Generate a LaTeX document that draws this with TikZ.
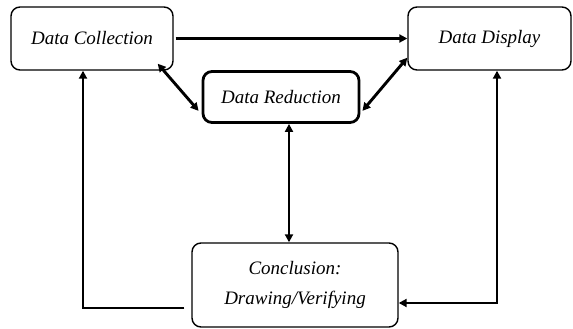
\documentclass[tikz,border=0pt]{standalone}
\usepackage{fontspec}
\setmainfont{Liberation Serif}
\usetikzlibrary{arrows.meta,calc}
\begin{document}
\begin{tikzpicture}[x=1pt,y=1pt,
  box/.style={draw,line width=1.4pt,rounded corners=9pt,align=center,inner sep=0pt,font=\fontsize{19}{30}\selectfont\itshape},
  arr/.style={line width=2.9pt,-{Triangle[length=8pt,width=8pt]}},
  darr/.style={line width=2.9pt,{Triangle[length=8pt,width=8pt]}-{Triangle[length=8pt,width=8pt]}}]
\useasboundingbox (0,0) rectangle (573,329);
\node[box,minimum width=162pt,minimum height=63pt] (DC) at (92,290.5) {Data Collection};
\node[box,minimum width=163pt,minimum height=63pt] (DD) at (489.5,290.5) {Data Display};
\node[box,line width=2.8pt,minimum width=156pt,minimum height=51pt] (DR) at (281,232) {Data Reduction};
\node[box,minimum width=206pt,minimum height=84pt] (CO) at (295,44) {Conclusion:\\Drawing/Verifying};
\draw[arr] ($(DC.east)+(2,0)$) -- (DD.west);
\draw[darr] ($(DC.south east)+(-16,7)$) -- ($(DR.south west)+(-3,13)$);
\draw[darr] ($(DD.south west)+(0,13)$) -- ($(DR.south east)+(2,13)$);
\draw[darr] ($(DR.south)+(8,0)$) -- ($(CO.north)+(-6,0)$);
\draw[arr] ($(CO.west)+(-7,-23)$) -| ($(DC.south)+(-9,0)$);
\draw[darr] ($(DD.south)+(7.5,0)$) |- ($(CO.east)+(0,-18)$);
\end{tikzpicture}
\end{document}
